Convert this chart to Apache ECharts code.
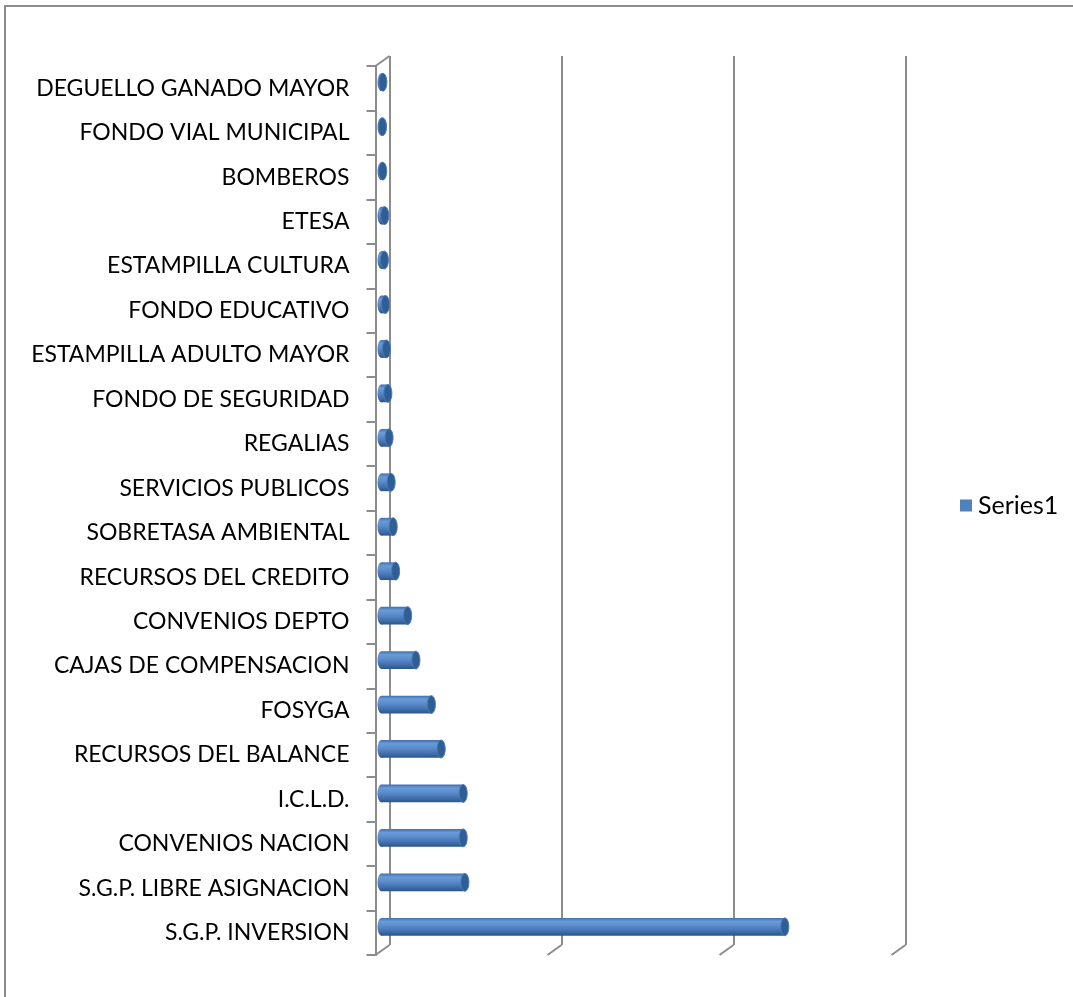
<!DOCTYPE html>
<html>
<head>
<meta charset="utf-8">
<title>Ingresos por fuente</title>
<script src="https://cdn.jsdelivr.net/npm/echarts@6/dist/echarts.min.js"></script>
<style>
  html, body { margin: 0; padding: 0; background: #fff; }
  #chart { width: 1073px; height: 997px; }
</style>
</head>
<body>
<div id="chart"></div>
<script>
// categories bottom -> top (as the category axis draws them)
const categories = [
  'S.G.P. INVERSION', 'S.G.P. LIBRE ASIGNACION', 'CONVENIOS NACION', 'I.C.L.D.',
  'RECURSOS DEL BALANCE', 'FOSYGA', 'CAJAS DE COMPENSACION', 'CONVENIOS DEPTO',
  'RECURSOS DEL CREDITO', 'SOBRETASA AMBIENTAL', 'SERVICIOS PUBLICOS', 'REGALIAS',
  'FONDO DE SEGURIDAD', 'ESTAMPILLA ADULTO MAYOR', 'FONDO EDUCATIVO', 'ESTAMPILLA CULTURA',
  'ETESA', 'BOMBEROS', 'FONDO VIAL MUNICIPAL', 'DEGUELLO GANADO MAYOR'
];
const series1 = [2345, 485, 475, 475, 347, 290, 200, 152, 82, 68, 56, 44, 37, 29, 23, 17, 19, 7, 6, 8];
const xTicks = [0, 1000, 2000, 3000];

const gridColor = '#8c8c8c';
const depthX = 14, depthY = 10;

const chart = echarts.init(document.getElementById('chart'));

chart.setOption({
  backgroundColor: '#fff',
  animation: false,
  legend: {
    data: ['Series1'],
    orient: 'vertical',
    left: 955,
    top: 488,
    icon: 'rect',
    itemWidth: 12,
    itemHeight: 12,
    itemGap: 4,
    textStyle: { fontFamily: 'Lato', fontSize: 25, color: '#000', padding: [0, 0, 0, 1] }
  },
  graphic: [{
    type: 'rect',
    shape: { x: 5, y: 6, width: 2000, height: 2000 },
    style: { fill: 'none', stroke: gridColor, lineWidth: 2 },
    silent: true
  }],
  grid: [
    // back wall
    { left: 389.5, top: 56, width: 516, height: 889 },
    // front (category labels)
    { left: 389.5 - depthX, top: 56 + depthY, width: 516, height: 889 },
    // mid depth (bars)
    { left: 389.5 - depthX / 2 - 1, top: 56 + depthY / 2 - 1, width: 516, height: 889 }
  ],
  xAxis: [
    {
      gridIndex: 0, type: 'value', min: 0, max: 3000, interval: 1000,
      axisLine: { show: false }, axisTick: { show: false }, axisLabel: { show: false },
      splitLine: { show: true, lineStyle: { color: gridColor, width: 2 } }
    },
    { gridIndex: 1, type: 'value', min: 0, max: 3000, show: false },
    { gridIndex: 2, type: 'value', min: 0, max: 3000, show: false }
  ],
  yAxis: [
    { gridIndex: 0, type: 'value', min: 0, max: 1, show: false },
    {
      gridIndex: 1, type: 'category', data: categories,
      axisLine: { show: true, lineStyle: { color: gridColor, width: 2 } },
      axisTick: { show: true, length: 9, lineStyle: { color: gridColor, width: 2 } },
      axisLabel: { margin: 26, fontFamily: 'Lato', fontSize: 23, color: '#000', padding: [7, 0, 0, 0] },
      splitLine: { show: false }
    },
    { gridIndex: 2, type: 'category', data: categories, show: false }
  ],
  series: [
    {
      // floor edges and top-left corner of the 3D box
      type: 'custom',
      xAxisIndex: 0, yAxisIndex: 0,
      silent: true,
      data: xTicks.map(t => [t, 0]).concat([[0, 1]]),
      renderItem: function (params, api) {
        const p = api.coord([api.value(0), api.value(1)]);
        return {
          type: 'line',
          shape: { x1: p[0], y1: p[1], x2: p[0] - depthX, y2: p[1] + depthY },
          style: { stroke: gridColor, lineWidth: 2 }
        };
      }
    },
    {
      name: 'Series1',
      type: 'custom',
      xAxisIndex: 2, yAxisIndex: 2,
      itemStyle: { color: '#4f81bd' },
      data: series1.map((v, i) => [v, i]),
      encode: { x: 0, y: 1 },
      renderItem: function (params, api) {
        const i = api.value(1);
        const s = api.coord([0, i]);
        const e = api.coord([api.value(0), i]);
        const h = api.size([0, 1])[1] * 0.4;
        const rx = 4;
        const body = new echarts.graphic.LinearGradient(0, 0, 0, 1, [
          { offset: 0, color: '#3f6fae' },
          { offset: 0.2, color: '#6a9bd8' },
          { offset: 0.45, color: '#5b8ccb' },
          { offset: 0.8, color: '#3e6ca8' },
          { offset: 1, color: '#2b5587' }
        ]);
        return {
          type: 'group',
          children: [
            {
              type: 'ellipse',
              shape: { cx: s[0], cy: s[1], rx: rx, ry: h / 2 },
              style: { fill: body }
            },
            {
              type: 'rect',
              shape: { x: s[0], y: s[1] - h / 2, width: Math.max(e[0] - s[0], 0.5), height: h },
              style: { fill: body }
            },
            {
              type: 'ellipse',
              shape: { cx: e[0], cy: e[1], rx: rx, ry: h / 2 },
              style: { fill: '#2f5d94', stroke: '#4a7bb8', lineWidth: 1 }
            }
          ]
        };
      }
    }
  ]
});
</script>
</body>
</html>
